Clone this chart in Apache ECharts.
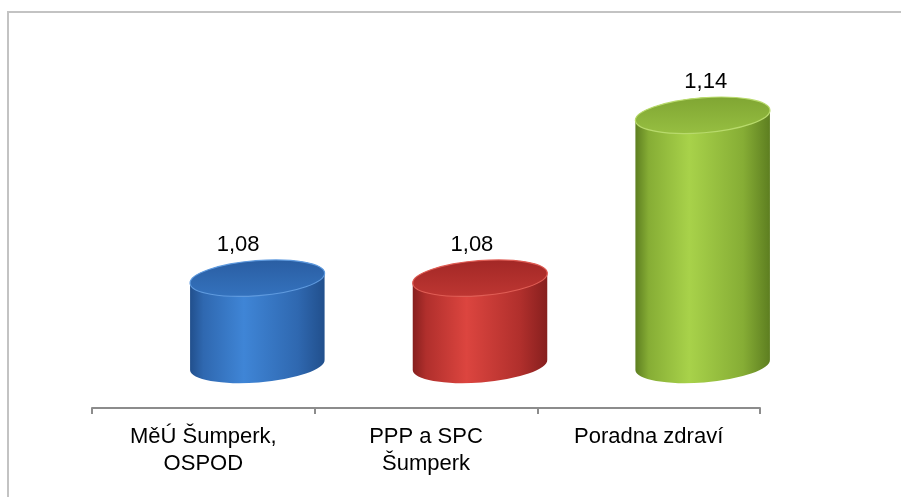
<!DOCTYPE html>
<html>
<head>
<meta charset="utf-8">
<script src="https://cdn.jsdelivr.net/npm/echarts@6/dist/echarts.min.js"></script>
<style>
html,body{margin:0;padding:0;background:#fff;}
#main{width:901px;height:497px;}
</style>
</head>
<body>
<div id="main"></div>
<script>
// data
var categories = ['MěÚ Šumperk,\nOSPOD', 'PPP a SPC\nŠumperk', 'Poradna zdraví'];
var values = [1.08, 1.08, 1.14];
var yMin = 1.048, yMax = 1.16;

// colours: [edge, light, mid, capBack, capFront, rim]
var palette = [
	['#214f8c', '#3f85d6', '#2f68b0', '#2a5ea3', '#3472bd', '#5f9ade'],
	['#861f1e', '#dc453f', '#b02f2c', '#a32826', '#bd3632', '#df5d55'],
	['#5d7e20', '#a8d24a', '#86ad35', '#80a633', '#96be41', '#b8da6c']
];

var tilt = -4.5; // degrees, cylinder ellipse tilt
var shiftX = 54; // 3d depth shift to the right
var vanishX = 641; // perspective centre for the value labels

function renderCylinder(params, api){
	var idx = api.value(0);
	var top = api.coord([idx, api.value(1)]);
	var base = api.coord([idx, yMin]);
	var rx = api.size([1, 0])[0] * 0.303;
	var ry = 17.5;
	var cx = top[0] + shiftX;
	var t = tilt * Math.PI / 180;
	var dx = rx * Math.cos(t), dy = rx * Math.sin(t);
	var c = palette[idx];
	var yT = top[1], yB = base[1];

	var body = 'M' + (cx-dx) + ' ' + (yT-dy) +
		' L' + (cx-dx) + ' ' + (yB-dy) +
		' A' + rx + ' ' + ry + ' ' + tilt + ' 0 0 ' + (cx+dx) + ' ' + (yB+dy) +
		' L' + (cx+dx) + ' ' + (yT+dy) +
		' A' + rx + ' ' + ry + ' ' + tilt + ' 0 0 ' + (cx-dx) + ' ' + (yT-dy) + ' Z';
	var cap = 'M' + (cx-dx) + ' ' + (yT-dy) +
		' A' + rx + ' ' + ry + ' ' + tilt + ' 0 1 ' + (cx+dx) + ' ' + (yT+dy) +
		' A' + rx + ' ' + ry + ' ' + tilt + ' 0 1 ' + (cx-dx) + ' ' + (yT-dy) + ' Z';

	var label = values[idx].toFixed(2).replace('.', ',');

	return {
		type: 'group',
		children: [
			{
				type: 'path',
				shape: {pathData: body},
				style: {
					fill: new echarts.graphic.LinearGradient(0, 0, 1, 0, [
						{offset: 0, color: c[0]},
						{offset: 0.1, color: c[2]},
						{offset: 0.4, color: c[1]},
						{offset: 0.8, color: c[2]},
						{offset: 1, color: c[0]}
					])
				}
			},
			{
				type: 'path',
				shape: {pathData: cap},
				style: {
					fill: new echarts.graphic.LinearGradient(0, 0, 0, 1, [
						{offset: 0, color: c[3]},
						{offset: 1, color: c[4]}
					]),
					stroke: c[5],
					lineWidth: 1.2
				}
			},
			{
				type: 'text',
				style: {
					text: label,
					x: cx + (cx - vanishX) * 0.05,
					y: yT - 33,
					align: 'center',
					verticalAlign: 'middle',
					fontSize: 22,
					fontFamily: 'Liberation Sans',
					fill: '#000'
				}
			}
		]
	};
}

var chart = echarts.init(document.getElementById('main'));
chart.setOption({
	backgroundColor: '#fff',
	animation: false,
	graphic: [{
		type: 'rect',
		shape: {x: 8, y: 12, width: 1200, height: 1000},
		style: {fill: 'none', stroke: '#c3c3c3', lineWidth: 2},
		silent: true
	}],
	grid: {left: 92, right: 141, top: 61, bottom: 132},
	xAxis: {
		type: 'category',
		data: categories,
		offset: 43,
		axisLine: {lineStyle: {color: '#8c8c8c', width: 2}},
		axisTick: {show: true, length: 6, lineStyle: {color: '#8c8c8c', width: 2}},
		axisLabel: {
			margin: 15,
			color: '#000',
			fontSize: 22,
			lineHeight: 27,
			fontFamily: 'Liberation Sans',
			interval: 0
		}
	},
	yAxis: {
		type: 'value',
		min: yMin,
		max: yMax,
		show: false,
		splitLine: {show: false}
	},
	series: [{
		type: 'custom',
		renderItem: renderCylinder,
		data: values.map(function(v, i){ return [i, v]; })
	}]
});
</script>
</body>
</html>
